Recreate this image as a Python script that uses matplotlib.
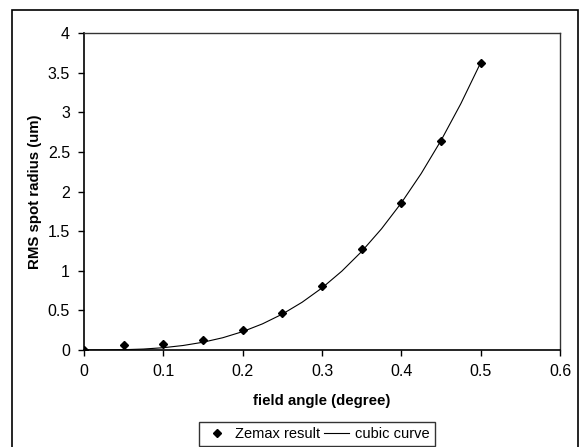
import matplotlib.pyplot as plt
from matplotlib.patches import Rectangle

plt.rcParams['font.family'] = ['Liberation Sans', 'DejaVu Sans']

# Zemax points
field_angle = [0, 0.05, 0.1, 0.15, 0.2, 0.25, 0.3, 0.35, 0.4, 0.45, 0.5]
rms_radius = [0, 0.06, 0.07, 0.12, 0.25, 0.47, 0.81, 1.27, 1.86, 2.64, 3.62]

# cubic curve
curve_x = [0, 0.025, 0.05, 0.075, 0.1, 0.125, 0.15, 0.175, 0.2, 0.225, 0.25,
           0.275, 0.3, 0.325, 0.35, 0.375, 0.4, 0.425, 0.45, 0.475, 0.5]
curve_y = [0, 0.0005, 0.004, 0.012, 0.029, 0.057, 0.098, 0.155, 0.232, 0.33, 0.453,
           0.603, 0.783, 0.995, 1.243, 1.529, 1.856, 2.226, 2.643, 3.108, 3.625]

x_ticks = [0, 0.1, 0.2, 0.3, 0.4, 0.5, 0.6]
y_ticks = [0, 0.5, 1, 1.5, 2, 2.5, 3, 3.5, 4]

fig = plt.figure(figsize=(5.84, 4.47), dpi=100)
ax = fig.add_axes([84/584, 1 - 350/447, 476/584, 317/447])

ax.plot(field_angle, rms_radius, 'D', color='black', markersize=4.5, label='Zemax result')
ax.plot(curve_x, curve_y, '-', color='black', lw=0.8, label='cubic curve')

ax.set_xlim(0, 0.6)
ax.set_ylim(0, 4)
ax.set_xticks(x_ticks)
ax.set_xticklabels([f'{t:g}' for t in x_ticks])
ax.set_yticks(y_ticks)
ax.set_yticklabels([f'{t:g}' for t in y_ticks])
ax.tick_params(direction='out', length=4, width=1, labelsize=11.5, pad=6)

for side in ['top', 'right']:
    ax.spines[side].set_linestyle((0, (1, 1)))
    ax.spines[side].set_color('#333333')
    ax.spines[side].set_linewidth(1)
for side in ['left', 'bottom']:
    ax.spines[side].set_color('black')
    ax.spines[side].set_linewidth(1.2)

ax.set_xlabel('field angle (degree)', fontsize=10.8, fontweight='bold', labelpad=11)
ax.set_ylabel('RMS spot radius (um)', fontsize=10.8, fontweight='bold', labelpad=4)

# outer chart border
fig.patches.append(Rectangle((12/584, -0.02), 566/584, 1 - 10/447 + 0.02,
                             transform=fig.transFigure, fill=False,
                             edgecolor='black', lw=1.2))

leg = fig.legend(loc='upper center', bbox_to_anchor=(317/584, 1 - 422/447),
                 ncol=2, fontsize=10.5, frameon=True, fancybox=False,
                 edgecolor='black', handlelength=1.7, columnspacing=0.3,
                 handletextpad=0.4, borderpad=0.35, borderaxespad=0)
leg.get_frame().set_linewidth(1)

fig.savefig('out.png', dpi=100)
